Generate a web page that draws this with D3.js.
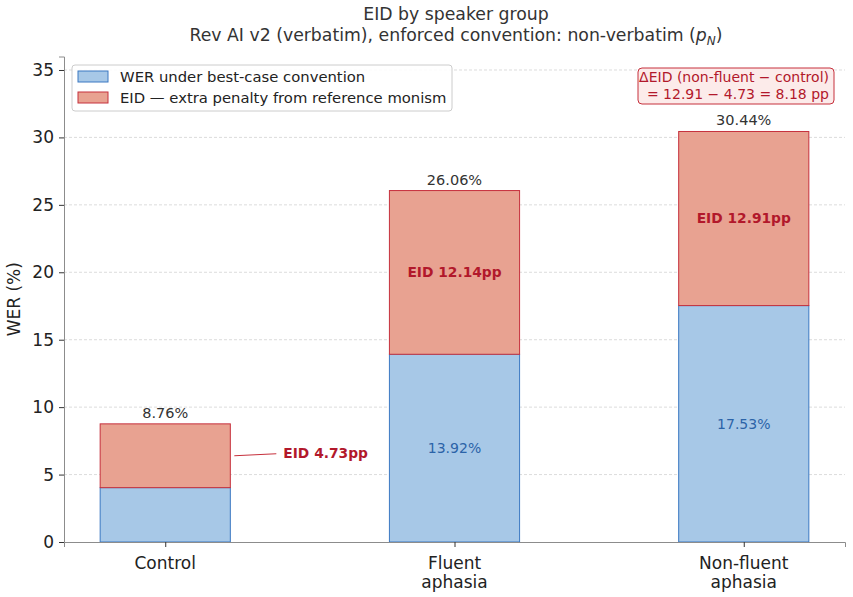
<!DOCTYPE html>
<html>
<head>
<meta charset="utf-8">
<script src="https://cdn.jsdelivr.net/npm/d3@7"></script>
<style>
  body { margin: 0; background: #ffffff; }
</style>
</head>
<body>
<div id="chart"></div>
<script>
// chart data
var groups = ['Control', 'Fluent aphasia', 'Non-fluent aphasia'];
var groupLines = [['Control'], ['Fluent', 'aphasia'], ['Non-fluent', 'aphasia']];
var werBest = [4.03, 13.92, 17.53];
var eidPenalty = [4.73, 12.14, 12.91];
var totals = [8.76, 26.06, 30.44];
var yTicks = [0, 5, 10, 15, 20, 25, 30, 35];
var legendLabels = ['WER under best-case convention', 'EID \u2014 extra penalty from reference monism'];

var fullWidth = 853;
var fullHeight = 597;
var mainFont = '"DejaVu Sans", Verdana, sans-serif';

var blueFill = '#a7c8e7';
var blueEdge = '#3b78c2';
var redFill = '#e8a291';
var redEdge = '#c6303c';
var redText = '#b2182b';
var blueText = '#2b63a8';
var textColor = '#333333';
var spineColor = '#8c8c8c';

window.onload = function() {
    render();
};

function render() {
    var svg = d3.select('#chart').append('svg')
        .attr('width', fullWidth)
        .attr('height', fullHeight)
        .style('font-family', mainFont);

    var x = d3.scaleLinear().domain([-0.35, 2.35]).range([64, 845]);
    var y = d3.scaleLinear().domain([0, 36]).range([542, 56.5]);
    var barW = x(0.45) - x(0);

    // title
    svg.append('text')
        .attr('x', 456).attr('y', 20)
        .attr('text-anchor', 'middle')
        .style('font-size', '17.3px')
        .style('fill', textColor)
        .text('EID by speaker group');

    var sub = svg.append('text')
        .attr('x', 456).attr('y', 41)
        .attr('text-anchor', 'middle')
        .style('font-size', '17.3px')
        .style('fill', textColor);
    sub.append('tspan').text('Rev AI v2 (verbatim), enforced convention: non-verbatim (');
    sub.append('tspan').style('font-style', 'italic').text('p');
    sub.append('tspan').style('font-style', 'italic').style('font-size', '12px')
        .attr('dy', 4).text('N');
    sub.append('tspan').attr('dy', -4).text(')');

    // grid lines
    svg.append('g').selectAll('line')
        .data(yTicks.filter(function(d) { return d > 0; }))
        .enter().append('line')
        .attr('x1', 64).attr('x2', 845)
        .attr('y1', function(d) { return y(d); })
        .attr('y2', function(d) { return y(d); })
        .attr('stroke', '#d3d3d3')
        .attr('stroke-width', 0.8)
        .attr('stroke-dasharray', '3,2');

    // stacked bars
    var bars = svg.append('g');
    groups.forEach(function(g, i) {
        bars.append('rect')
            .attr('x', x(i) - barW / 2)
            .attr('y', y(werBest[i]))
            .attr('width', barW)
            .attr('height', y(0) - y(werBest[i]))
            .attr('fill', blueFill)
            .attr('stroke', blueEdge)
            .attr('stroke-width', 1);
        bars.append('rect')
            .attr('x', x(i) - barW / 2)
            .attr('y', y(werBest[i] + eidPenalty[i]))
            .attr('width', barW)
            .attr('height', y(werBest[i]) - y(werBest[i] + eidPenalty[i]))
            .attr('fill', redFill)
            .attr('stroke', redEdge)
            .attr('stroke-width', 1);

        // total on top
        svg.append('text')
            .attr('x', x(i)).attr('y', y(totals[i]) - 6)
            .attr('text-anchor', 'middle')
            .style('font-size', '14.5px')
            .style('fill', textColor)
            .text(totals[i].toFixed(2) + '%');

        if (i > 0) {
            // value inside blue part
            svg.append('text')
                .attr('x', x(i)).attr('y', y(werBest[i] / 2))
                .attr('dy', '0.35em')
                .attr('text-anchor', 'middle')
                .style('font-size', '14px')
                .style('fill', blueText)
                .text(werBest[i].toFixed(2) + '%');
            // EID inside red part
            svg.append('text')
                .attr('x', x(i)).attr('y', y(werBest[i] + eidPenalty[i] / 2))
                .attr('dy', '0.35em')
                .attr('text-anchor', 'middle')
                .style('font-size', '13.8px')
                .style('font-weight', 'bold')
                .style('fill', redText)
                .text('EID ' + eidPenalty[i].toFixed(2) + 'pp');
        } else {
            // small bar: label outside with a pointer line
            var midY = y(werBest[i] + eidPenalty[i] / 2);
            svg.append('line')
                .attr('x1', x(i) + barW / 2 + 4).attr('y1', midY)
                .attr('x2', x(i) + barW / 2 + 46).attr('y2', midY - 2)
                .attr('stroke', redEdge)
                .attr('stroke-width', 1);
            svg.append('text')
                .attr('x', x(i) + barW / 2 + 53).attr('y', midY - 3)
                .attr('dy', '0.35em')
                .style('font-size', '13.8px')
                .style('font-weight', 'bold')
                .style('fill', redText)
                .text('EID ' + eidPenalty[i].toFixed(2) + 'pp');
        }
    });

    // y axis
    var yAxis = svg.append('g')
        .attr('transform', 'translate(64,0)')
        .call(d3.axisLeft(y).tickValues(yTicks).tickSize(5).tickPadding(5));
    yAxis.select('.domain').attr('stroke', spineColor);
    yAxis.selectAll('.tick line').attr('stroke', '#333');
    yAxis.selectAll('.tick text')
        .style('font-size', '17px')
        .style('font-family', mainFont)
        .style('fill', '#222');

    // x axis
    var xAxis = svg.append('g')
        .attr('transform', 'translate(0,542)')
        .call(d3.axisBottom(x).tickValues([0, 1, 2]).tickSize(5).tickFormat(''));
    xAxis.select('.domain').attr('stroke', spineColor);
    xAxis.selectAll('.tick line').attr('stroke', '#333');

    groupLines.forEach(function(lines, i) {
        var t = svg.append('text')
            .attr('x', x(i)).attr('y', 569)
            .attr('text-anchor', 'middle')
            .style('font-size', '17px')
            .style('fill', '#222');
        lines.forEach(function(l, j) {
            t.append('tspan')
                .attr('x', x(i))
                .attr('dy', j === 0 ? 0 : 19)
                .text(l);
        });
    });

    svg.append('text')
        .attr('transform', 'translate(20,' + y(18) + ') rotate(-90)')
        .attr('text-anchor', 'middle')
        .style('font-size', '17px')
        .style('fill', '#222')
        .text('WER (%)');

    // legend
    var legend = svg.append('g');
    legend.append('rect')
        .attr('x', 72).attr('y', 65)
        .attr('width', 380).attr('height', 46)
        .attr('rx', 3)
        .attr('fill', '#ffffff')
        .attr('fill-opacity', 0.85)
        .attr('stroke', '#cccccc');
    var legendColors = [[blueFill, blueEdge], [redFill, redEdge]];
    legendLabels.forEach(function(l, i) {
        legend.append('rect')
            .attr('x', 78).attr('y', 71 + i * 21)
            .attr('width', 30).attr('height', 11)
            .attr('fill', legendColors[i][0])
            .attr('stroke', legendColors[i][1]);
        legend.append('text')
            .attr('x', 120).attr('y', 82 + i * 21)
            .style('font-size', '14.8px')
            .style('fill', '#222')
            .text(l);
    });

    // delta annotation
    var note = svg.append('g');
    note.append('rect')
        .attr('x', 638).attr('y', 68)
        .attr('width', 196).attr('height', 36)
        .attr('rx', 4)
        .attr('fill', '#fcebea')
        .attr('stroke', redEdge);
    var noteText = note.append('text')
        .attr('text-anchor', 'end')
        .style('font-size', '14px')
        .style('fill', redText);
    noteText.append('tspan').attr('x', 829).attr('y', 82)
        .text('\u0394EID (non-fluent \u2212 control)');
    noteText.append('tspan').attr('x', 829).attr('y', 99)
        .text('= ' + eidPenalty[2].toFixed(2) + ' \u2212 ' + eidPenalty[0].toFixed(2) +
              ' = ' + (eidPenalty[2] - eidPenalty[0]).toFixed(2) + ' pp');
}
</script>
</body>
</html>
